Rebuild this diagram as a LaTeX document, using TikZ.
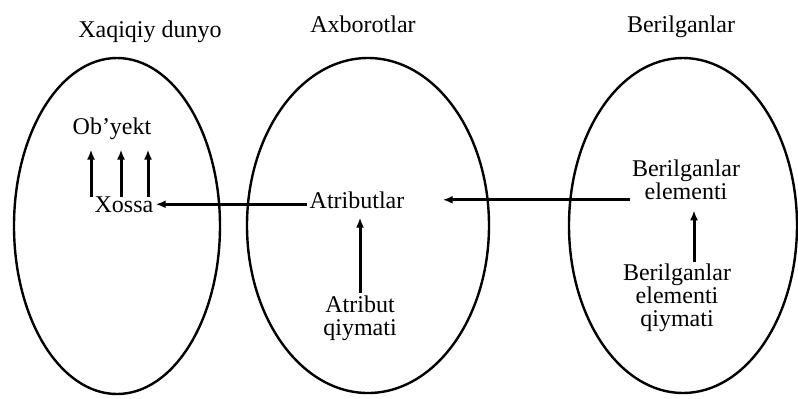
\documentclass[tikz,border=0pt]{standalone}
\usepackage{fontspec}
\setmainfont{Liberation Serif}
\usepackage{tikz}
\usetikzlibrary{arrows.meta,shapes.geometric,calc}
\tikzstyle{region}=[ellipse, draw, line width=1.2pt, inner sep=0pt]
\tikzstyle{txt}=[font=\fontsize{12}{11.5}\selectfont, align=center, inner sep=1pt]
\tikzstyle{link}=[-{Latex[length=5pt,width=4pt]}, line width=1.5pt]

\begin{document}
\begin{tikzpicture}[x=0.5pt,y=-0.5pt]
\useasboundingbox (0,0) rectangle (798,398);
% the three worlds
\node[region, minimum width=103pt, minimum height=168pt] (real) at (117,226) {};
\node[region, minimum width=121pt, minimum height=167.5pt] (info) at (368,225.5) {};
\node[region, minimum width=114pt, minimum height=167.5pt] (data) at (683,225.5) {};
\node[txt, anchor=base] (realT) at (150,37) {Xaqiqiy dunyo};
\node[txt, anchor=base] (infoT) at (363,32) {Axborotlar};
\node[txt, anchor=base] (dataT) at (681,32) {Berilganlar};
% inner texts
\node[txt, anchor=base] (obj) at (112,134) {Ob'yekt};
\node[txt, anchor=base] (xossa) at (124,212) {Xossa};
\node[txt, anchor=base] (attr) at (357,208) {Atributlar};
\node[txt] (aval) at (360,318) {Atribut\\qiymati};
\node[txt] (elem) at (686,180) {Berilganlar\\elementi};
\node[txt] (elval) at (677,298) {Berilganlar\\elementi\\qiymati};
\foreach \dx in {-16.5,-1.5,12}
  \draw[link, shorten <=-1.5pt, shorten >=4pt] ([xshift=\dx pt]xossa.north) -- ([xshift=\dx pt]xossa.north |- obj.south);
\draw[link] (attr.west |- xossa.east) -- (xossa.east);
\draw[link, shorten >=18pt] (elem.west |- attr.east) -- (attr.east);
\draw[link, shorten >=3.5pt] (aval.north) -- (aval.north |- attr.south);
\draw[link, shorten >=4pt] ([xshift=8.5pt]elval.north) -- ([xshift=8.5pt]elval.north |- elem.south);
\end{tikzpicture}
\end{document}
